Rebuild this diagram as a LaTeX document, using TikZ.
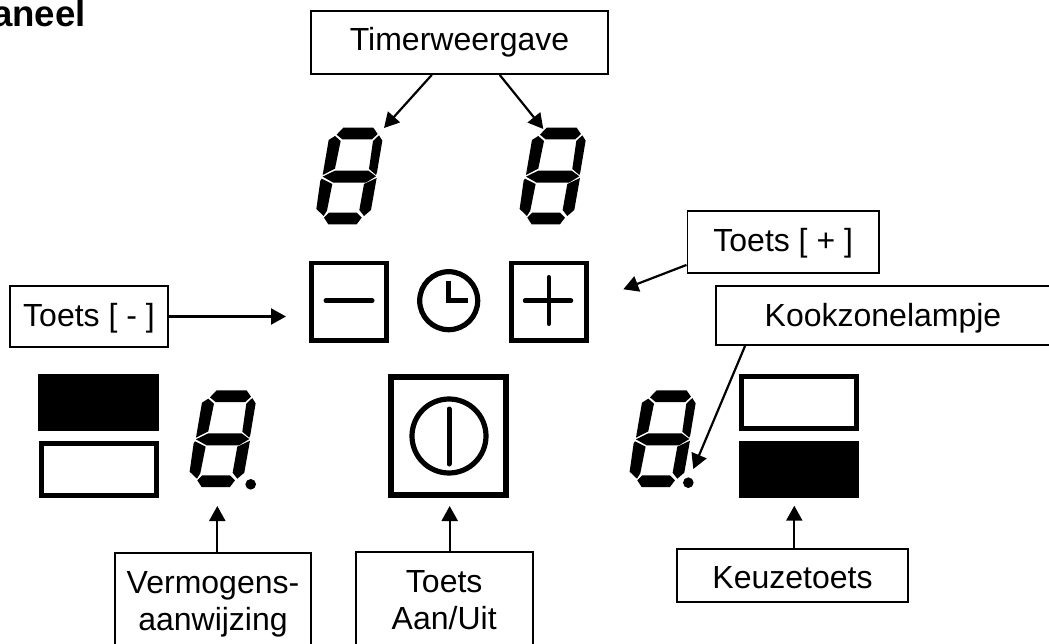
\documentclass[tikz,border=0pt]{standalone}
\usepackage{fontspec}
\setmainfont{Liberation Sans}
\usetikzlibrary{arrows.meta,calc}
\tikzset{
  lbl/.style={draw=black,line width=1.9pt,fill=white,inner sep=0pt,align=center,font=\fontsize{32}{37}\selectfont},
  conn/.style={draw=black,line width=2.2pt,-{Triangle[length=15pt,width=16pt]}},
  key/.style={draw=black,line width=4.5pt,inner sep=0pt,fill=white},
  bar/.style={inner sep=0pt,fill=black},
  frameb/.style={draw=black,line width=5.4pt,inner sep=0pt,fill=white},
  stroke/.style={line width=5pt,line cap=round,black}
}
\newcommand{\sevenseg}[2]{%
  \begin{scope}[shift={(#1,#2)},x=0.3333pt,y=-0.3333pt]
  \fill (110,224)--(130,203)--(220,203)--(233,222)--(216,238)--(127,238)--cycle;
  \fill (105,228)--(122,243)--(105,326)--(68,345)--(86,240)--cycle;
  \fill (237,226)--(247,242)--(231,337)--(228,345)--(207,327)--(219,243)--cycle;
  \fill (68,350)--(105,332)--(205,332)--(228,349)--(197,368)--(100,368)--cycle;
  \fill (65,356)--(97,372)--(81,452)--(71,468)--(49,447)--(61,362)--cycle;
  \fill (230,354)--(213,450)--(192,468)--(178,450)--(192,372)--cycle;
  \fill (72,473)--(87,458)--(170,458)--(185,473)--(170,493)--(85,493)--cycle;
  \end{scope}}
\begin{document}
\begin{tikzpicture}[x=1pt,y=-1pt]
\useasboundingbox (0,0) rectangle (1049,644);
\clip (0,0) rectangle (1049,644);
\node[anchor=base east,inner sep=0pt,font=\fontsize{36.6}{40}\selectfont\bfseries] (title) at (86,27) {aneel};

% labels
\node[lbl,minimum width=297pt,minimum height=63pt] (timer) at (459.5,42.5) {Timerweergave};
\node[lbl,minimum width=191.5pt,minimum height=62pt,text height=24pt,text depth=4.6pt] (plus) at (783.2,242) {Toets [ + ]};
\node[lbl,minimum width=158pt,minimum height=61pt,text height=24pt,text depth=5pt] (minus) at (89,316.5) {Toets [ - ]};
\node[lbl,minimum width=334pt,minimum height=59pt,text height=26pt,text depth=3.6pt] (kook) at (883,315.5) {Kookzonelampje};
\node[lbl,minimum width=196.6pt,minimum height=100pt] (verm) at (213,602.7) {};
\node[inner sep=0pt,align=center,font=\fontsize{32}{37}\selectfont] (vermt) at (213,604) {Vermogens-\\aanwijzing};
\node[lbl,minimum width=177pt,minimum height=100pt] (aan) at (444.2,601.7) {};
\node[inner sep=0pt,align=center,font=\fontsize{32}{37}\selectfont] (aant) at (444.2,600.5) {Toets\\Aan/Uit};
\node[lbl,minimum width=231pt,minimum height=53pt,text height=28pt,text depth=2.4pt] (keuze) at (792.5,575.5) {Keuzetoets};

% digits
\sevenseg{300}{60}
\sevenseg{503.3}{60}
\sevenseg{173.3}{322.7}
\sevenseg{613.3}{322.7}
\fill (250.7,484.3) circle (5.3pt);
\fill (688.3,482.7) circle (5.3pt);

% keys
\node[key,minimum width=75pt,minimum height=77.5pt] (kmin) at (348.8,301.7) {};
\node[key,minimum width=75pt,minimum height=77.5pt] (kplus) at (548.8,301.7) {};
\draw[stroke] (326,300.7) -- (372,300.7);
\draw[stroke,line width=4.5pt] (525,300.7) -- (571,300.7);
\draw[stroke,line width=4pt] (548.7,277) -- (548.7,324);
\node[circle,draw=black,line width=5.2pt,inner sep=0pt,minimum size=58pt] (clock) at (448.7,300.7) {};
\draw[line width=5pt,black] (448.7,281) -- (448.7,303) (446.2,300.7) -- (468,300.7);

\node[key,line width=5.7pt,minimum width=114.7pt,minimum height=118pt] (power) at (448.5,436.2) {};
\node[circle,draw=black,line width=5.2pt,inner sep=0pt,minimum size=74pt] (pring) at (449,436) {};
\draw[stroke] (449,409) -- (449,464);

% bars
\node[bar,minimum width=120.5pt,minimum height=57pt] (b1) at (98.7,402.5) {};
\node[frameb,minimum width=115pt,minimum height=51.6pt] (f1) at (98.7,469.5) {};
\node[frameb,minimum width=115pt,minimum height=51.6pt] (f2) at (799,402.5) {};
\node[bar,minimum width=120pt,minimum height=57pt] (b2) at (799,469.5) {};

% connector tips
\coordinate (t1) at (384,128);
\coordinate (t2) at (543.3,129);
\coordinate (t3) at (623.3,289.3);
\coordinate (t4) at (286,316.5);
\coordinate (t5) at (693.3,469);
\coordinate (t6) at (217.3,506);
\coordinate (t7) at (449.7,506);
\coordinate (t8) at (794.3,505.7);

\draw[conn] ($(timer.south west)+(121.7,0)$) -- (t1);
\draw[conn] ($(timer.south west)+(189.7,0)$) -- (t2);
\draw[conn] ($(plus.south west)+(0,-9)$) -- (t3);
\draw[conn] (minus.east) -- (t4);
\draw[conn] ($(kook.south west)+(30,0)$) -- (t5);
\draw[conn] (verm.north -| t6) -- (t6);
\draw[conn] (aan.north -| t7) -- (t7);
\draw[conn] (keuze.north -| t8) -- (t8);
\end{tikzpicture}
\end{document}
